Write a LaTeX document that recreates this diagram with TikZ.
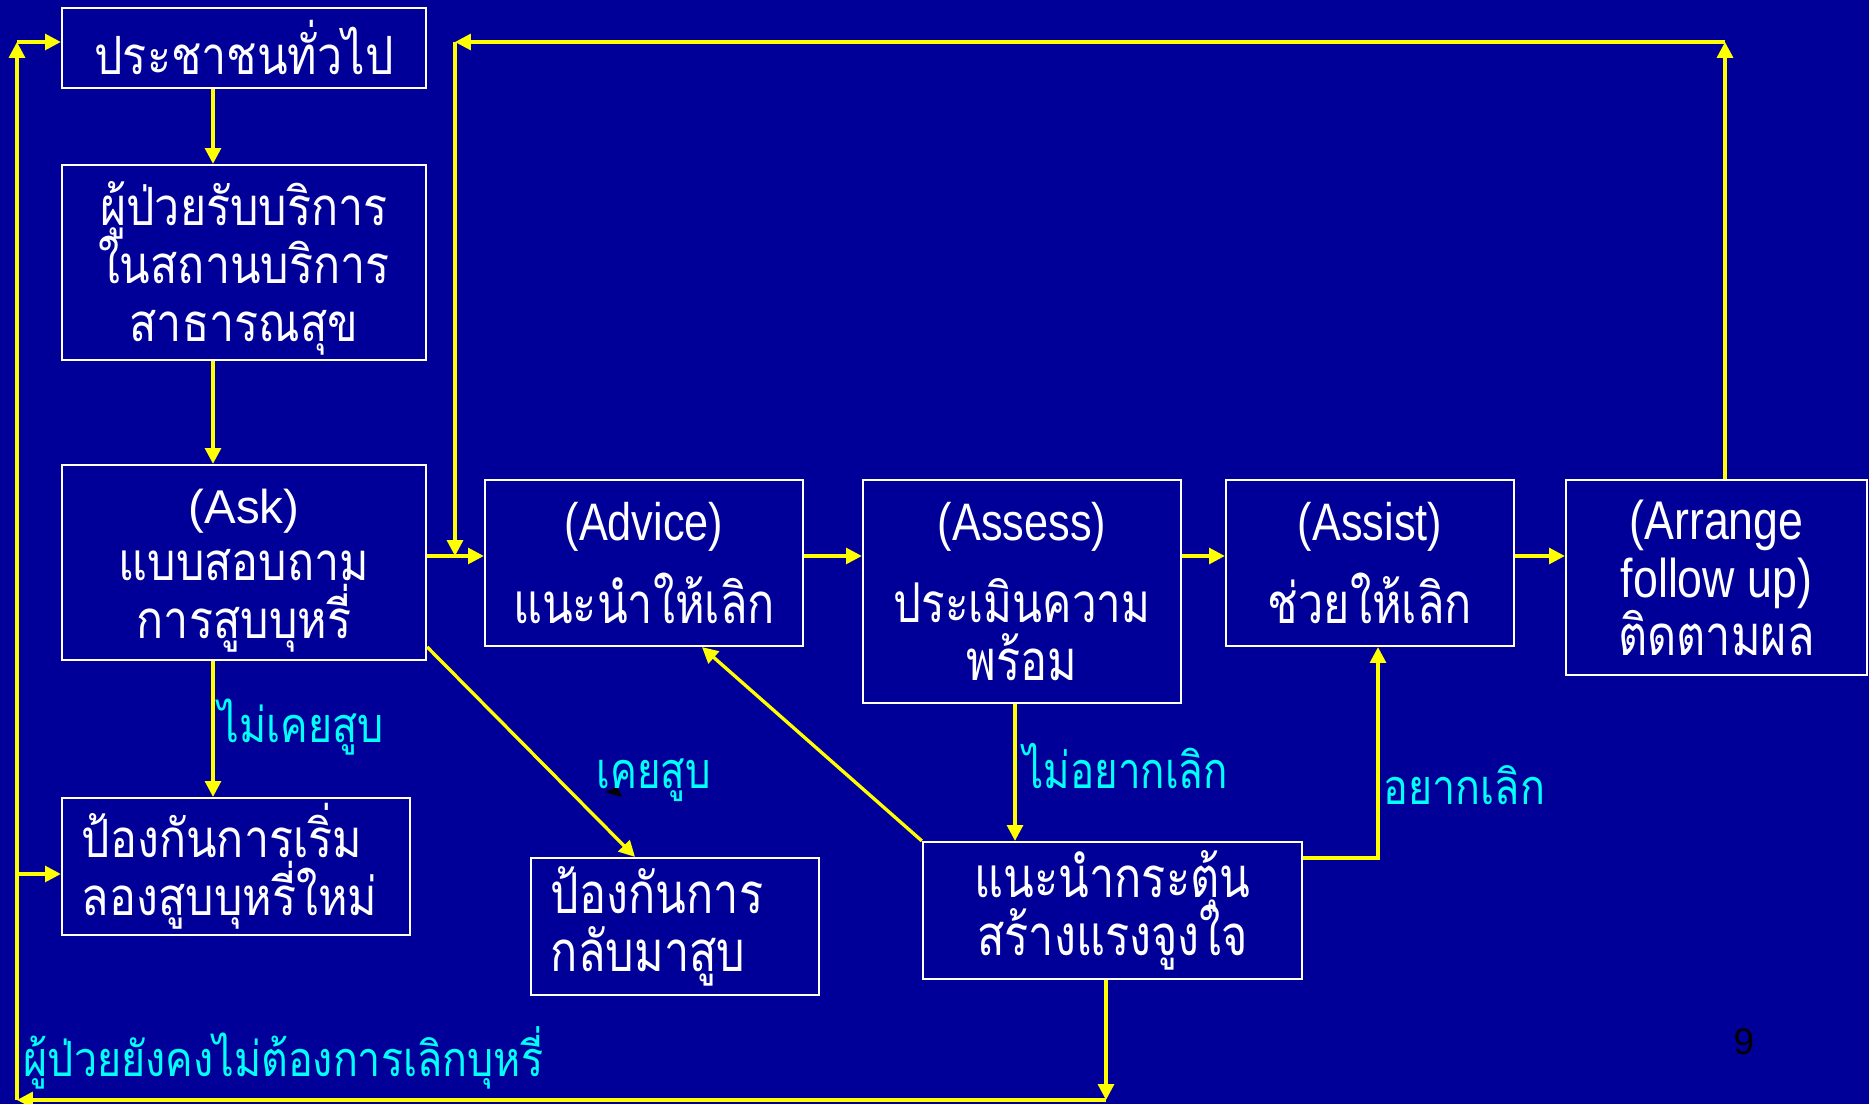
\documentclass[tikz,border=0pt]{standalone}
\usepackage{fontspec}
\setmainfont{Liberation Sans}
\newfontfamily\thaifont[Script=Thai,FakeStretch=0.85]{Loma}
\newfontfamily\thaicond[Script=Thai,FakeStretch=0.8]{Loma}
\newfontfamily\latcond[FakeStretch=0.82]{Liberation Sans}
\newcommand\tightlines{\setlength{\lineskiplimit}{-30pt}\setlength{\lineskip}{0pt}}
\usetikzlibrary{arrows.meta,calc}
\definecolor{slideblue}{RGB}{0,0,153}
\definecolor{flowyellow}{RGB}{255,255,0}
\definecolor{labelcyan}{RGB}{0,255,255}
\begin{document}
\begin{tikzpicture}[x=0.01cm,y=-0.01cm,
  frame/.style={draw=white, line width=0.6pt, inner sep=0pt},
  box/.style={frame, text=white, align=center},
  thtext/.style={text=white, inner sep=0pt, align=center, font=\thaifont\fontsize{15pt}{16.4pt}\selectfont\tightlines},
  thbox/.style={box, font=\thaifont\fontsize{15pt}{16.4pt}\selectfont\tightlines},
  cdbox/.style={box, font=\thaicond\fontsize{16pt}{16.5pt}\selectfont\tightlines},
  flow/.style={draw=flowyellow, line width=0.95pt, -{Triangle[length=4.5pt,width=4.5pt]}},
  lab/.style={text=labelcyan, inner sep=0pt, font=\thaifont\fontsize{13.8pt}{15pt}\selectfont},
  cdlab/.style={text=labelcyan, inner sep=0pt, font=\thaicond\fontsize{14.3pt}{16pt}\selectfont}]
% page
\fill[slideblue] (0,0) rectangle (1869,1104);
\useasboundingbox (0,0) rectangle (1869,1104);

% boxes of the left column
\node[thbox, minimum width=3.64cm, minimum height=0.80cm] (pub) at (244,48) {ประชาชนทั่วไป};
\node[frame, minimum width=3.64cm, minimum height=1.95cm] (svc) at (244,262.5) {};
\node[thtext] (svcText) at ([yshift=-0.06cm]svc.center)
  {ผู้ป่วยรับบริการ\\ในสถานบริการ\\สาธารณสุข};
\node[frame, minimum width=3.64cm, minimum height=1.95cm] (ask) at (244,562.5) {};
\node[thtext] (askText) at ([yshift=-0.08cm]ask.center)
  {{\rmfamily\fontsize{13.5pt}{16.4pt}\selectfont (Ask)}\\แบบสอบถาม\\การสูบบุหรี่};
\node[thbox, align=left, text width=3.08cm, inner xsep=0.2cm, minimum height=1.37cm] (prevA) at (236,866.5)
  {ป้องกันการเริ่ม\\ลองสูบบุหรี่ใหม่};

% the 5A row
\node[cdbox, minimum width=3.18cm, minimum height=1.66cm] (advice) at (644,563)
  {{\latcond\fontsize{15pt}{16pt}\selectfont (Advice)}\\[7pt]แนะนำให้เลิก};
\node[cdbox, minimum width=3.18cm, minimum height=2.23cm] (assess) at (1022,591.5)
  {{\latcond\fontsize{15pt}{16pt}\selectfont (Assess)}\\[7pt]{\fontsize{15.6pt}{16.5pt}\selectfont ประเมินความ}\\พร้อม};
\node[cdbox, minimum width=2.88cm, minimum height=1.66cm] (assist) at (1370,563)
  {{\latcond\fontsize{15pt}{16pt}\selectfont (Assist)}\\[7pt]ช่วยให้เลิก};
\node[cdbox, minimum width=3.01cm, minimum height=1.95cm] (arrange) at (1716.5,577.5)
  {{\latcond\fontsize{15.5pt}{16pt}\selectfont (Arrange}\\{\latcond\fontsize{15.5pt}{16pt}\selectfont follow up)}\\ติดตามผล};

% lower boxes
\node[cdbox, align=left, text width=2.48cm, inner xsep=0.2cm, minimum height=1.37cm] (prevB) at (675,926.5)
  {ป้องกันการ\\กลับมาสูบ};
\node[cdbox, minimum width=3.79cm, minimum height=1.37cm] (motiv) at (1112.5,910.5)
  {แนะนำกระตุ้น\\สร้างแรงจูงใจ};

% bend points of the connectors
\coordinate (colx) at (213,0);
\coordinate (rowy) at (0,556);
\coordinate (spineTop) at (17,42);
\coordinate (spineMid) at (17,874);
\coordinate (spineBot) at (17,1100);
\coordinate (loopBot) at (1106,1100);
\coordinate (retTop) at (455,42);
\coordinate (arrTop) at (1725,42);
\coordinate (needx) at (1015,0);
\coordinate (wantTurn) at (1378,858);
\coordinate (backx) at (702,0);
\coordinate (relapse) at (635,647);

% left column flow
\draw[flow] (pub.south -| colx) -- (svc.north -| colx);
\draw[flow] (svc.south -| colx) -- (ask.north -| colx);
\draw[flow] (ask.south -| colx) -- (prevA.north -| colx);

% main row
\draw[flow] (ask.east |- rowy) -- (advice.west |- rowy);
\draw[flow] (advice.east |- rowy) -- (assess.west |- rowy);
\draw[flow] (assess.east |- rowy) -- (assist.west |- rowy);
\draw[flow] (assist.east |- rowy) -- (arrange.west |- rowy);

% follow-up loop back to the top
\draw[flow] (arrange.north -| arrTop) -- (arrTop);
\draw[flow] (arrTop) -- (retTop);
\draw[flow] (retTop) -- (retTop |- rowy);

% smokers branch
\draw[flow] (ask.east |- relapse) -- (prevB.north -| relapse);
\draw[flow] (assess.south -| needx) -- (motiv.north -| needx);
\draw[flow] (motiv.east |- wantTurn) -| (assist.south -| wantTurn);
\draw[flow] (motiv.north west) -- (advice.south -| backx);

% still unwilling: back to the start
\draw[flow] (motiv.south -| loopBot) -- (loopBot);
\draw[flow] (loopBot) -- (spineBot);
\draw[flow] (spineBot) -- (spineTop);
\draw[flow] (spineTop) -- (pub.west |- spineTop);
\draw[flow] (spineMid) -- (prevA.west |- spineMid);

% stray tip
\fill[black] (605,792) -- (617,787) -- (622,797) -- cycle;

% labels
\node[lab, anchor=base west] (tNever) at (218,743) {ไม่เคยสูบ};
\node[cdlab, anchor=base west] (tEver) at (596,789) {เคยสูบ};
\node[cdlab, anchor=base west] (tNotWant) at (1023,789) {ไม่อยากเลิก};
\node[lab, anchor=base west] (tWant) at (1383,805) {อยากเลิก};
\node[lab, anchor=base west] (tStill) at (23,1077) {ผู้ป่วยยังคงไม่ต้องการเลิกบุหรี่};
\node[text=black, inner sep=0pt, font=\fontsize{10.5pt}{12pt}\selectfont] (pageno) at (1744,1042) {9};
\end{tikzpicture}
\end{document}
